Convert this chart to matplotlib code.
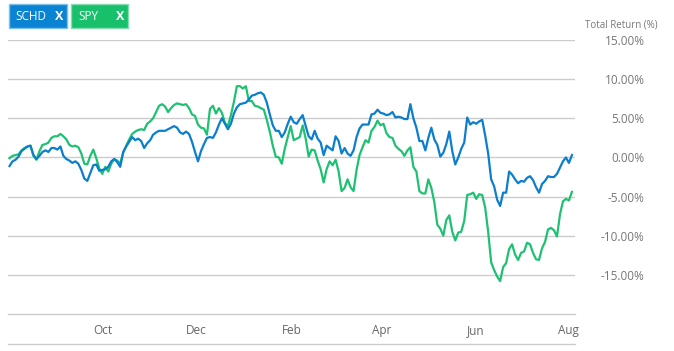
import matplotlib
matplotlib.use("Agg")
import matplotlib.pyplot as plt
import matplotlib.dates as mdates
from matplotlib.patches import Rectangle
from matplotlib.lines import Line2D
import pandas as pd

# total return (%) sampled at regular intervals, Aug 2021 - Aug 2022
schd = [
    -1.1, -0.5, -0.3, 0.1, 0.8, 1.1, 1.4, 1.5, 0.3, -0.2, 0.2, 0.7, 0.9, 0.7,
    1.2, 1.2, 1.0, 1.4, 0.2, -0.2, -0.4, -0.7, -0.5, -0.8, -1.6, -2.7, -3.0,
    -2.0, -1.0, -0.9, -1.7, -1.6, -1.5, -1.2, -0.5, -0.2, -0.6, -1.2, 0.7, 1.4,
    2.0, 2.6, 2.2, 2.4, 2.1, 1.2, 1.8, 2.2, 2.9, 3.2, 3.4, 3.4, 3.4, 3.6, 3.8,
    4.0, 3.8, 3.2, 3.0, 3.3, 3.0, 2.0, 0.7, -0.5, 0.8, 1.7, 2.5, 2.6, 2.5, 3.2,
    4.2, 5.0, 4.3, 3.6, 4.3, 5.6, 6.4, 6.8, 6.9, 7.0, 7.4, 7.9, 8.0, 8.2, 8.3,
    8.0, 7.0, 5.5, 4.1, 3.4, 3.4, 2.6, 3.2, 4.3, 5.2, 4.5, 4.3, 4.9, 5.4, 4.0,
    2.7, 2.3, 3.4, 2.4, 1.9, 0.3, 1.5, 1.2, 0.9, 2.7, 2.1, 0.5, 1.2, 0.5, 0.2,
    0.9, 2.6, 3.7, 4.2, 4.2, 4.2, 5.5, 5.6, 6.1, 5.7, 5.6, 5.4, 5.5, 5.8, 5.1,
    5.2, 5.1, 4.9, 4.9, 6.8, 5.0, 3.8, 2.1, 2.1, 0.9, 2.5, 3.8, 2.3, 1.6, 0.1,
    0.6, 1.7, 3.3, 0.8, -0.9, 0.0, 1.1, 1.9, 5.1, 4.2, 4.5, 4.3, 4.6, 4.8, 2.8,
    0.5, -2.8, -3.7, -5.4, -6.2, -4.5, -4.5, -1.8, -2.2, -2.8, -3.3, -3.0, -3.1,
    -2.6, -2.4, -2.9, -3.8, -4.5, -3.4, -3.0, -2.4, -2.5, -2.5, -2.1, -1.3,
    -0.5, 0.0, -0.7, 0.3,
]
spy = [
    -0.1, 0.2, 0.3, 0.4, 0.9, 1.2, 1.4, 1.5, 0.2, -0.3, 0.8, 1.6, 1.7, 1.9,
    2.5, 2.7, 2.7, 3.0, 2.7, 2.3, 1.6, 1.4, 1.5, 1.3, 0.5, -0.8, -0.9, 0.2,
    1.0, -0.1, -1.4, -2.1, -1.2, -1.8, -0.8, -0.2, -0.4, -0.8, 0.6, 1.5, 2.3,
    3.0, 3.3, 3.5, 3.6, 3.5, 4.3, 4.6, 5.0, 5.8, 6.6, 6.8, 6.5, 5.8, 6.3, 6.7,
    6.9, 6.8, 6.7, 6.8, 6.3, 5.5, 5.3, 4.2, 3.8, 3.7, 2.9, 6.2, 6.6, 5.6, 6.3,
    5.7, 4.4, 4.0, 5.4, 7.1, 9.1, 9.1, 8.8, 9.1, 7.2, 7.2, 6.6, 6.5, 6.3, 6.1,
    4.8, 3.3, 1.5, 0.1, 0.0, -0.8, 1.1, 2.6, 4.0, 2.2, 2.4, 2.6, 4.1, 2.4, 0.1,
    1.0, 0.9, -0.4, -1.5, -3.2, -1.5, -0.5, -1.0, -0.3, -1.8, -4.3, -3.9, -2.8,
    -3.8, -4.3, -1.6, 0.3, 1.3, 2.2, 1.9, 3.4, 3.9, 4.7, 4.1, 4.3, 3.1, 2.6,
    2.5, 1.5, 1.1, 0.8, 0.2, 0.9, 1.3, -1.2, -1.8, -4.3, -4.6, -4.6, -2.8,
    -3.9, -5.7, -8.6, -9.1, -10.0, -8.0, -7.4, -9.5, -10.6, -9.6, -9.5, -8.1,
    -4.8, -4.7, -4.5, -5.3, -4.7, -4.8, -6.4, -9.5, -13.4, -14.4, -15.2, -15.8,
    -14.0, -13.5, -11.7, -11.1, -12.4, -13.1, -12.2, -12.0, -10.9, -11.1,
    -12.2, -13.0, -13.1, -11.6, -10.8, -9.2, -9.0, -9.3, -10.1, -7.3, -5.6,
    -5.3, -5.5, -4.4,
]
start, end = "2021-08-01", "2022-08-03"
y_ticks = [15, 10, 5, 0, -5, -10, -15]
month_ticks = ["2021-10-01", "2021-12-01", "2022-02-01", "2022-04-01",
               "2022-06-01", "2022-08-01"]

BLUE = "#0b7fcc"
GREEN = "#1ec172"
GREY_TXT = "#777777"
GRID = "#cccccc"

plt.rcParams["font.family"] = ["Open Sans", "DejaVu Sans"]

W, H = 674, 351
fig = plt.figure(figsize=(W / 100, H / 100), dpi=100)
ax = fig.add_axes([8 / W, (H - 314) / H, (575 - 8) / W, (314 - 40) / H])

d_schd = pd.date_range(start, end, periods=len(schd))
d_spy = pd.date_range(start, end, periods=len(spy))
ax.plot(d_spy, spy, color=GREEN, lw=1.6, zorder=3)
ax.plot(d_schd, schd, color=BLUE, lw=1.6, zorder=4)

ax.set_xlim(pd.Timestamp("2021-07-31"), pd.Timestamp("2022-08-05"))
ax.set_ylim(-20, 15)
ax.set_yticks(y_ticks)
ax.set_yticklabels([f"{v:.2f}%" for v in y_ticks])
ax.yaxis.tick_right()
ax.tick_params(axis="y", length=0, pad=50, labelsize=8.5, labelcolor=GREY_TXT)
for lbl in ax.get_yticklabels():
    lbl.set_horizontalalignment("right")
ax.grid(axis="y", color=GRID, lw=1)

ax.set_xticks([pd.Timestamp(m) for m in month_ticks])
ax.xaxis.set_major_formatter(mdates.DateFormatter("%b"))
ax.tick_params(axis="x", length=0, pad=7, labelsize=8.5, labelcolor="#666666")

for s in ["top", "left", "right"]:
    ax.spines[s].set_visible(False)
ax.spines["bottom"].set_color(GRID)
ax.spines["bottom"].set_linewidth(1)

# lower rule under the month labels
fig.add_artist(Line2D([8 / W, 575 / W], [(H - 344) / H] * 2,
                      transform=fig.transFigure, color=GRID, lw=1))

fig.text(621 / W, (H - 25) / H, "Total Return (%)", ha="center", va="center",
         fontsize=7, color=GREY_TXT)

# series buttons
fig.add_artist(Rectangle((9 / W, (H - 28) / H), 58 / W, 24 / H,
                         transform=fig.transFigure, facecolor="#0a84d2",
                         edgecolor="#7fc0ea", lw=1))
fig.text(15 / W, (H - 16) / H, "SCHD", color="white", fontsize=8.5,
         va="center", ha="left")
fig.text(59 / W, (H - 16) / H, "X", color="white", fontsize=9,
         fontweight="bold", va="center", ha="center")
fig.add_artist(Rectangle((71 / W, (H - 28) / H), 57 / W, 24 / H,
                         transform=fig.transFigure, facecolor="#18c06c",
                         edgecolor="#86dcb0", lw=1))
fig.text(78 / W, (H - 16) / H, "SPY", color="white", fontsize=8.5,
         va="center", ha="left")
fig.text(120 / W, (H - 16) / H, "X", color="white", fontsize=9,
         fontweight="bold", va="center", ha="center")

fig.savefig("out.png", dpi=100)
